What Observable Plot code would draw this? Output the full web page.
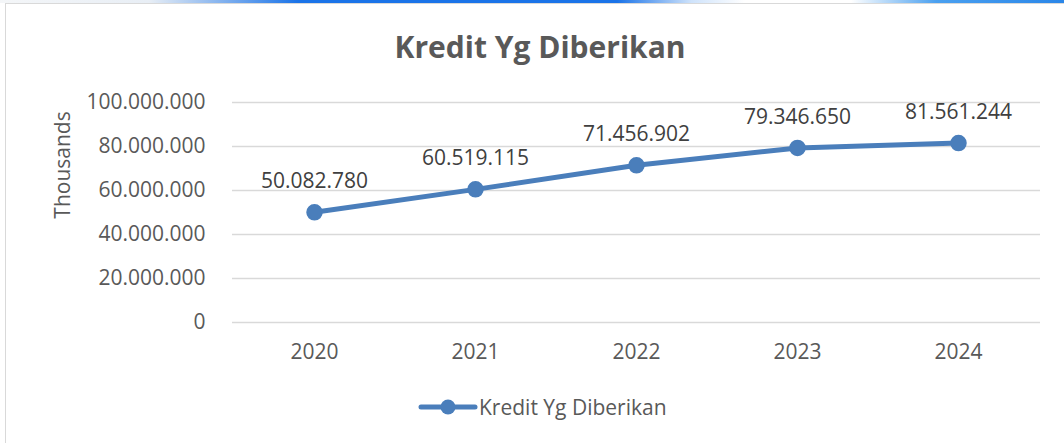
<!DOCTYPE html>
<html>
<head>
<meta charset="utf-8">
<script src="https://cdn.jsdelivr.net/npm/d3@7"></script>
<script src="https://cdn.jsdelivr.net/npm/@observablehq/plot@0.6"></script>
<style>
  html, body { margin: 0; padding: 0; background: #fff; width: 1064px; height: 443px; overflow: hidden; }
  body { position: relative; font-family: "Open Sans", sans-serif; color: #595959; }
  #topbar { position: absolute; left: 0; top: 0; width: 1064px; height: 3px;
    background: linear-gradient(90deg, #f4f6f8 0%, #e8eef5 14%, #1a73e8 28%, #1a73e8 58%, #cfe3fb 65%, #ffffff 70%, #ffffff 80%, #4aa0f0 88%, #2a86e8 100%); }
  #frame { position: absolute; left: 5px; top: 3px; width: 1070px; height: 450px; border-left: 1px solid #d9d9d9; border-top: 1px solid #d9d9d9; }
  #title { position: absolute; left: 8px; width: 1064px; top: 26px; line-height: 42px; text-align: center; font-size: 30px; font-weight: bold; color: #595959; }
  #ylabel { position: absolute; left: 62px; top: 165px; transform: translate(-50%, -50%) rotate(-90deg); font-size: 21px; color: #595959; white-space: nowrap; line-height: 24px; }
  #chart { position: absolute; left: 0; top: 80px; }
  #legend { position: absolute; left: 418px; top: 393px; display: flex; align-items: center; font-size: 21px; color: #595959; line-height: 28px; }
  #legend svg { margin-right: 1px; }
</style>
</head>
<body>
<div id="topbar"></div>
<div id="frame"></div>
<div id="title"></div>
<div id="ylabel"></div>
<div id="chart"></div>
<div id="legend"></div>
<script>
const titleText = "Kredit Yg Diberikan";
const seriesName = "Kredit Yg Diberikan";
const yAxisLabel = "Thousands";
const years = ["2020", "2021", "2022", "2023", "2024"];
const values = [50082780, 60519115, 71456902, 79346650, 81561244];
const yTicks = [0, 20000000, 40000000, 60000000, 80000000, 100000000];

const lineColor = "#4a7ebb";
const textColor = "#595959";
const locale = d3.formatLocale({decimal: ",", thousands: ".", grouping: [3], currency: ["", ""]});
const fmt = locale.format(",d");

const data = years.map((y, i) => ({year: y, value: values[i]}));

document.getElementById("title").textContent = titleText;
document.getElementById("ylabel").textContent = yAxisLabel;

const chart = Plot.plot({
  width: 1064,
  height: 300,
  marginLeft: 232,
  marginRight: 24,
  marginTop: 22,
  marginBottom: 58,
  style: {fontFamily: "Open Sans, sans-serif", fontSize: "21px", color: textColor, background: "transparent", overflow: "visible"},
  x: {type: "point", domain: years, padding: 0.5, label: null},
  y: {domain: [0, 100000000], label: null},
  marks: [
    Plot.gridY(yTicks, {stroke: "#d9d9d9", strokeOpacity: 1, strokeWidth: 1.3}),
    Plot.axisY(yTicks, {tickSize: 0, tickPadding: 27, tickFormat: fmt, fill: textColor, fontSize: 21, label: null}),
    Plot.axisX({tickSize: 0, tickPadding: 22, fill: textColor, fontSize: 21, label: null}),
    Plot.line(data, {x: "year", y: "value", stroke: lineColor, strokeWidth: 5, strokeLinecap: "round"}),
    Plot.dot(data, {x: "year", y: "value", r: 7.5, fill: lineColor, stroke: lineColor}),
    Plot.text(data, {x: "year", y: "value", text: d => fmt(d.value), dy: -31, fill: "#404040", fontSize: 21})
  ]
});
document.getElementById("chart").appendChild(chart);

const leg = document.getElementById("legend");
const sw = d3.create("svg").attr("width", 60).attr("height", 24);
sw.append("line").attr("x1", 3).attr("x2", 57).attr("y1", 12).attr("y2", 12)
  .attr("stroke", lineColor).attr("stroke-width", 5).attr("stroke-linecap", "round");
sw.append("circle").attr("cx", 30).attr("cy", 12).attr("r", 7.5).attr("fill", lineColor);
leg.appendChild(sw.node());
const lt = document.createElement("span");
lt.textContent = seriesName;
leg.appendChild(lt);
</script>
</body>
</html>
